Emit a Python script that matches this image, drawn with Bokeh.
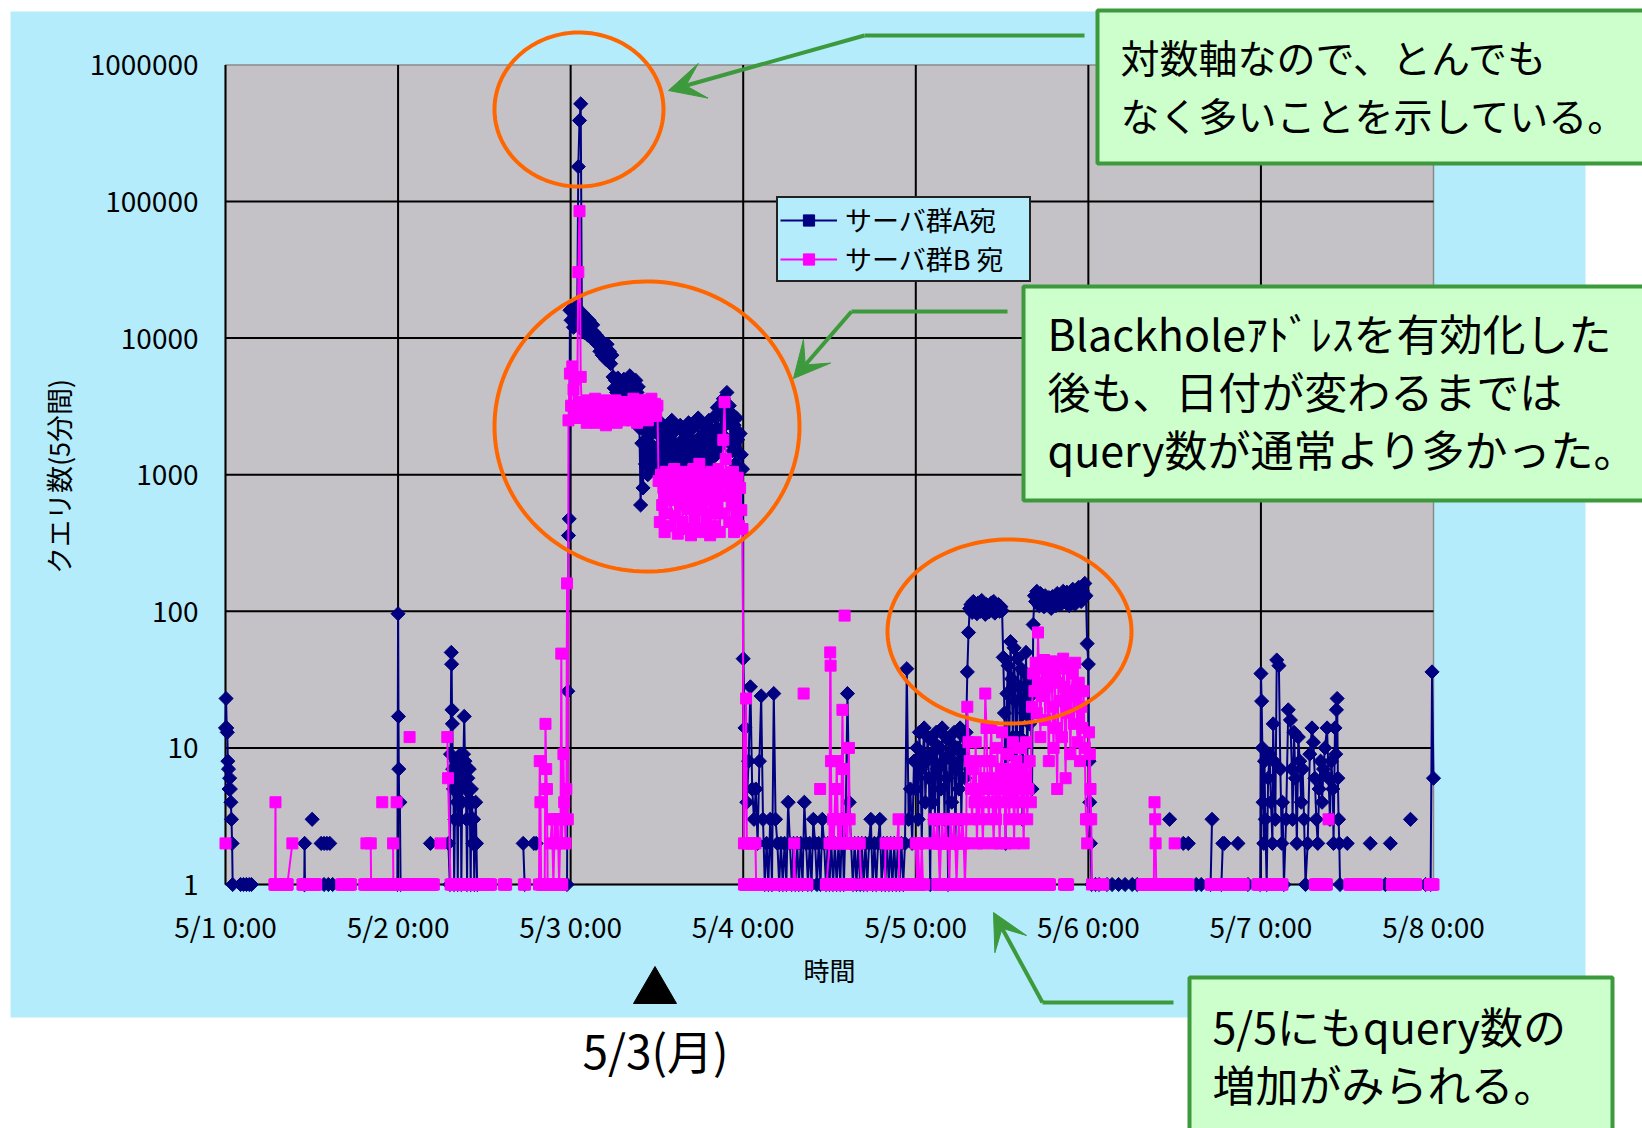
import numpy as np
from bokeh.plotting import figure
from bokeh.models import (Range1d, FixedTicker, NumeralTickFormatter, BoxAnnotation,
                          PolyAnnotation, Label, Arrow, VeeHead, Legend, LegendItem)
from bokeh.embed import file_html
from bokeh.resources import INLINE

# ---------------------------------------------------------------- data
# time axis in hours from 5/1 0:00, sampled every 5 minutes
day_ticks = [0, 24, 48, 72, 96, 120, 144, 168]
day_labels = ["5/1 0:00", "5/2 0:00", "5/3 0:00", "5/4 0:00",
              "5/5 0:00", "5/6 0:00", "5/7 0:00", "5/8 0:00"]
decade_ticks = [1, 10, 100, 1000, 10000, 100000, 1000000]
series_names = ["サーバ群A宛", "サーバ群B 宛"]
x_title = "時間"
y_title = "クエリ数(5分間)"

# --- サーバ群A宛 (navy)
navy_may1 = [
    [(0.0, 14), (0.08, 23), (0.17, 14), (0.25, 13), (0.33, 8), (0.42, 7), (0.5, 5),
     (0.58, 6), (0.67, 5), (0.75, 4), (0.83, 3), (0.92, 2), (1.0, 1), (2.1, 1),
     (2.5, 1), (2.9, 1), (3.3, 1), (3.6, 1)],
    [(10.95, 1), (11.0, 2), (11.05, 1)],
    [(12.05, 3)],
    [(13.3, 2), (13.7, 2), (14.1, 2), (14.5, 2)],
    [(13.7, 1), (14.3, 1), (14.9, 1)],
    [(23.9, 1), (24.0, 96), (24.05, 17), (24.1, 7), (24.15, 4), (24.25, 4), (24.35, 1)],
]
navy_may2 = [
    [(28.5, 2)],
    [(31.0, 2), (31.2, 1), (31.3, 9), (31.4, 50), (31.45, 41), (31.5, 19), (31.55, 15),
     (31.6, 7), (31.7, 5), (31.8, 1), (31.9, 3), (32.0, 6), (32.1, 8), (32.2, 4),
     (32.3, 1), (32.4, 5), (32.5, 7), (32.6, 3), (32.7, 9), (32.8, 1), (32.9, 4),
     (33.0, 6), (33.1, 9), (33.2, 17), (33.3, 8), (33.4, 5), (33.5, 3), (33.6, 1),
     (33.7, 6), (33.8, 4), (33.9, 7), (34.0, 3), (34.1, 1), (34.2, 5), (34.3, 4),
     (34.4, 2), (34.5, 3), (34.6, 1), (34.7, 2), (34.8, 4), (34.9, 2), (35.0, 1)],
    [(41.4, 2), (41.6, 1)],
    [(42.9, 2), (43.2, 2)],
]
navy_climb = [(47.5, 1), (47.6, 26), (47.7, 359), (47.8, 475)]
# 10-minute readings from 47.9 h
navy_may3 = [16000, 13500, 15500, 12000, 14500, 17000, 12500, 180000, 392000, 519000, 13000, 15000,
             11000, 14000, 12000, 10500, 13500, 11500, 10000, 12500, 11000, 9500, 10500, 9000,
             10000, 8000, 9500, 7500, 9000, 8500, 7000, 9000, 7500, 8000, 6500, 7500,
             5200, 4300, 4900, 4000, 5100, 4500, 3900, 4800, 4200, 5000, 4400, 4000,
             4700, 4100, 5300, 4300, 3900, 4600, 4200, 4900, 4000, 4400, 2200, 600,
             1700, 800, 2100, 1200, 1500, 1000, 1900, 1300, 2300, 1100, 1600, 1400,
             1200, 2000, 1500, 1100, 2400, 1300, 1800, 1000, 1600, 2200, 1200, 1900,
             1400, 2500, 1100, 1700, 2100, 1300, 1600, 1000, 2300, 1500, 1800, 1200,
             2000, 1100, 1600, 2400, 1300, 1800, 1050, 2200, 1400, 1700, 1200, 2600,
             1500, 1900, 1100, 2300, 1400, 1700, 2000, 1200, 2500, 1600, 1300, 2100,
             1800, 2700, 1400, 3100, 2000, 1600, 2900, 2200, 3600, 1900, 2500, 4000,
             2400, 3200, 1700, 2800, 1500, 2300, 1200, 2600, 1800, 1100, 2000, 1400,
             1100]
# 15-minute readings from 72.0 h
navy_may4 = [45, 14, 4, 8, 28, 5, 3, 5,
             2, 8, 24, 3, 1, 2, 1, 3,
             1, 25, 3, 2, 1, 2, 1, 2,
             1, 4, 2, 1, 2, 1, 2, 1,
             2, 1, 4, 2, 1, 2, 1, 3,
             2, 1, 2, 1, 3, 2, 1, 2,
             1, 2, 1, 2, 1, 2, 1, 3,
             1, 3, 25, 4, 2, 1, 2, 1,
             2, 1, 2, 1, 2, 1, 2, 3,
             1, 2, 1, 2, 3, 1, 2, 1,
             2, 1, 2, 1, 2, 1, 2, 1,
             2, 1, 2, 38, 3, 5, 2, 8]
# 10-minute readings from 96.0 h
navy_may5 = [5, 10, 3, 13, 7, 2, 9, 14, 4, 8, 12, 6,
             1, 9, 4, 11, 3, 13, 7, 2, 10, 5, 14, 8,
             3, 12, 6, 1, 9, 11, 4, 8, 13, 2, 7, 10,
             5, 14, 3, 9, 12, 6, 13, 36, 70, 105, 112, 98,
             118, 104, 110, 96, 115, 108, 100, 120, 102, 110, 95, 112,
             104, 99, 108, 115, 101, 118, 97, 110, 104, 112, 100, 108,
             101, 46, 18, 2, 25, 40, 9, 60, 32, 12, 54, 22,
             5, 45, 28, 12, 38, 3, 36, 18, 50, 8, 30, 15,
             24, 5, 80, 130, 118, 140, 122, 110, 135, 115, 125, 108,
             130, 118, 112, 126, 120, 105, 128, 115, 122, 110, 135, 118,
             126, 112, 130, 140, 122, 116, 138, 124, 110, 132, 119, 145,
             128, 113, 136, 121, 150, 127, 118, 141, 125, 160, 130, 58]
navy_drop = [(120.0, 41), (120.1, 8), (120.2, 4), (120.3, 2), (120.45, 1), (121.0, 1),
             (121.5, 1), (122.6, 1), (123.3, 1), (124.2, 1), (125.1, 1), (126.1, 1),
             (126.8, 1)]
navy_may6 = [
    [(131.3, 3)],
    [(133.2, 2), (133.9, 2)],
    [(135.0, 1), (135.7, 1)],
    [(137.0, 1), (137.2, 3)],
    [(138.5, 1), (138.7, 2), (138.9, 2)],
    [(140.8, 2)],
    [(142.2, 1)],
]
navy_may7 = [
    [(143.9, 1), (144.0, 35), (144.1, 22), (144.2, 10), (144.3, 4), (144.4, 2), (144.5, 8),
     (144.6, 3), (144.8, 1), (145.0, 6), (145.2, 9), (145.4, 4), (145.6, 2), (145.7, 15),
     (145.8, 8), (146.0, 3), (146.2, 44), (146.5, 40), (146.7, 7), (146.9, 2), (147.0, 4),
     (147.2, 1), (147.5, 3), (147.8, 19), (148.1, 16), (148.3, 7), (148.4, 3), (148.6, 13),
     (148.8, 6), (149.0, 2), (149.2, 12), (149.4, 8), (149.6, 4), (149.8, 7), (150.0, 3),
     (150.2, 1), (150.5, 2), (150.8, 9), (151.1, 14), (151.3, 11), (151.5, 6), (151.7, 3),
     (151.9, 2), (152.1, 5), (152.3, 8), (152.5, 4), (152.7, 7), (152.9, 10), (153.2, 14),
     (153.4, 6), (153.6, 3), (153.8, 8), (154.0, 5), (154.1, 2), (154.3, 14), (154.4, 9),
     (154.5, 19), (154.6, 23), (154.7, 6), (154.8, 3), (154.9, 2), (155.0, 1)],
    [(156.0, 2)], [(159.2, 2)], [(161.3, 1)], [(162.0, 2)], [(164.8, 3)], [(166.9, 1)],
    [(167.6, 1), (167.8, 36), (168.0, 6)],
]

# --- サーバ群B宛 (magenta)
pink_runs = [(6.8, 8.6), (10.7, 12.6), (16.1, 17.4), (19.3, 29.0), (31.5, 36.9),
             (38.7, 39.0), (41.5, 41.7), (44.0, 46.8), (72.1, 80.9), (83.5, 87.0),
             (89.3, 96.5), (99.0, 114.7), (116.6, 117.2), (121.9, 122.1), (127.5, 133.9),
             (137.0, 141.6), (143.5, 147.0), (151.5, 153.2), (156.3, 160.1),
             (162.2, 165.6), (167.5, 168.0)]
pink_may1 = [
    [(0.0, 2)],
    [(6.9, 1), (6.95, 4), (7.0, 1)],
    [(8.6, 1), (9.3, 2)],
    [(19.6, 2), (20.2, 2), (20.25, 1)],
    [(21.8, 4)],
    [(23.3, 2), (23.35, 1)],
    [(23.8, 4)],
]
pink_may2 = [
    [(25.6, 12)],
    [(29.9, 2)],
    [(30.85, 12), (30.95, 6), (31.3, 1)],
    [(43.6, 1), (43.7, 8), (43.8, 4), (43.9, 1)],
    [(44.4, 1), (44.5, 15), (44.6, 7), (44.7, 5), (44.8, 1)],
]
pink_climb = [(45.2, 2), (45.4, 3), (45.6, 1), (45.8, 3), (46.0, 2), (46.2, 3), (46.4, 1),
              (46.6, 3), (46.7, 49), (46.8, 2), (47.0, 9), (47.1, 4), (47.2, 3), (47.3, 2),
              (47.4, 5), (47.5, 160), (47.6, 3), (47.7, 2500)]
# 10-minute readings from 47.9 h
pink_may3 = [5500, 3200, 6200, 4200, 2600, 5000, 3000, 30400, 85000, 5200, 2800, 3400,
             2600, 3100, 2400, 3500, 2800, 3300, 2500, 3000, 2700, 3600, 2400, 3200,
             2800, 3400, 2500, 3100, 2700, 3500, 2300, 3000, 2600, 3300, 2800, 2500,
             3200, 2700, 3500, 2400, 3000, 2800, 3400, 2600, 3100, 2500, 3300, 2900,
             2600, 3400, 2800, 3100, 2500, 3600, 2700, 3200, 2400, 3000, 3500, 2800,
             3300, 2600, 3500, 2900, 3100, 2500, 3400, 2700, 3600, 3000, 2800, 3300,
             2700, 3200, 900, 450, 1000, 600, 800, 380, 1050, 520, 750, 900,
             420, 950, 650, 1100, 500, 800, 370, 1000, 600, 880, 450, 700,
             1050, 400, 850, 560, 980, 360, 720, 1100, 480, 900, 620, 400,
             1200, 550, 820, 380, 1000, 650, 450, 900, 700, 360, 1050, 520,
             780, 420, 950, 600, 1100, 380, 850, 520, 1800, 3400, 1300, 700,
             1000, 450, 880, 600, 1050, 380, 750, 500, 950, 420, 800, 550,
             400]
pink_after = [(72.1, 2), (72.4, 23), (72.5, 2), (72.8, 2), (73.1, 2), (73.4, 2),
              (73.7, 2), (73.8, 1)]
pink_may4 = [
    [(79.0, 1), (79.1, 2), (79.2, 1)],
    [(80.4, 25)],
    [(82.7, 5)],
    [(83.6, 1), (84.0, 2), (84.1, 50), (84.15, 40), (84.2, 8), (84.3, 2), (84.5, 3),
     (84.6, 2), (84.8, 5), (84.9, 3), (85.0, 8), (85.2, 2), (85.4, 3), (85.6, 2),
     (85.8, 19), (85.9, 7), (86.0, 2), (86.3, 3), (86.5, 2), (86.7, 10), (86.8, 3),
     (87.0, 2), (87.3, 2), (87.6, 2), (87.9, 2), (88.2, 2), (88.4, 1)],
    [(86.1, 93)],
    [(91.7, 1), (91.8, 2), (92.2, 2), (92.6, 2), (93.0, 2), (93.4, 2), (93.6, 3), (93.7, 1)],
]
# 10-minute readings from 96.0 h (None = no reading)
pink_may5 = [2, 1, 2, 1, 1, 2, 1, 1, None, None, None, None,
             None, None, 2, 3, 2, 2, 3, 2, 1, 2, 3, 2,
             2, 3, 2, 2, 1, 3, 2, 2, 3, 2, 1, 2,
             3, 2, 2, 3, 2, 1, 2, 20, 11, 8, 5, 3,
             7, 4, 11, 2, 5, 3, 8, 4, 2, 6, 25, 14,
             5, 3, 8, 14, 4, 2, 6, 3, 10, 5, 2, 7,
             13, 4, 6, 2, 5, 9, 3, 7, 4, 11, 2, 6,
             8, 3, 5, 10, 4, 7, 2, 6, 11, 3, 5, 8,
             4, 20, 35, 26, 42, 18, 70, 30, 12, 38, 24, 44,
             16, 40, 28, 8, 34, 43, 20, 10, 36, 14, 5, 30,
             42, 22, 12, 45, 28, 6, 38, 18, 40, 9, 26, 35,
             15, 42, 24, 11, 30, 8, 20, 14, 26, 10, 3, 2]
pink_tail = [(120.0, 3), (120.1, 13), (120.2, 9), (120.3, 5), (120.4, 3), (120.5, 1)]
pink_may6 = [
    [(129.1, 1), (129.2, 4), (129.3, 3), (129.35, 2), (129.45, 1)],
    [(132.0, 2)],
    [(153.4, 3)],
]


def regular(start, step, values):
    return [(start + i * step, v) for i, v in enumerate(values)]


def assemble(strokes, runs=()):
    xs, ys = [], []
    for h0, h1 in runs:
        n = int(round((h1 - h0) * 12)) + 1
        for i in range(n):
            xs.append(h0 + i / 12.0)
            ys.append(1)
        xs.append(np.nan)
        ys.append(np.nan)
    for stroke in strokes:
        for h, v in stroke:
            xs.append(h)
            ys.append(np.nan if v is None else v)
        xs.append(np.nan)
        ys.append(np.nan)
    return np.array(xs, dtype=float), np.array(ys, dtype=float)


navy_main = (navy_climb + regular(47.9, 1 / 6, navy_may3) + regular(72.0, 0.25, navy_may4)
             + regular(96.0, 1 / 6, navy_may5) + navy_drop)
navy_x, navy_y = assemble(navy_may1 + navy_may2 + [navy_main] + navy_may6 + navy_may7)

pink_main = (pink_climb + regular(47.9, 1 / 6, pink_may3) + pink_after)
pink_day5 = regular(96.0, 1 / 6, pink_may5) + pink_tail
pink_x, pink_y = assemble(pink_may1 + pink_may2 + [pink_main] + pink_may4 + [pink_day5]
                          + pink_may6, pink_runs)

# ---------------------------------------------------------------- layout
# the frame fills the whole canvas; the axes sit at fixed data positions
W, H = 1642, 1128
AX_X, AX_Y = 225, 884          # canvas position of 5/1 0:00 and of the value 1
HOUR_PX = (1433 - AX_X) / 168.0
DECADE_PX = 136.6
x_lo, x_hi = -AX_X / HOUR_PX, (W - AX_X) / HOUR_PX
y_lo, y_hi = 10 ** (-(H - AX_Y) / DECADE_PX), 10 ** (AX_Y / DECADE_PX)

JP = "Noto Sans CJK JP"
NAVY, PINK = "#000080", "#FF00FF"
SKY, PLOT_BG = "#B4ECFC", "#C4C2C6"
GREEN, NOTE_BG, ORANGE = "#3C9A3C", "#CCFFCC", "#FF6600"


def sx(X):
    return X


def sy(Y):
    return H - Y


p = figure(width=W, height=H, y_axis_type="log", title=None,
           x_range=Range1d(x_lo, x_hi), y_range=Range1d(y_lo, y_hi),
           output_backend="svg", toolbar_location=None, min_border=0,
           min_border_left=0, min_border_right=0, min_border_top=0, min_border_bottom=0)
p.border_fill_color = "white"
p.background_fill_color = "white"
p.outline_line_color = None
p.xgrid.visible = False
p.ygrid.visible = False

# light-blue chart area and grey plot area
p.add_layout(BoxAnnotation(left=sx(10), right=sx(1585), top=sy(11), bottom=sy(1017),
                           left_units="screen", right_units="screen",
                           top_units="screen", bottom_units="screen",
                           fill_color=SKY, fill_alpha=1, line_color=None, level="image"))
p.add_layout(BoxAnnotation(left=0, right=168, bottom=1, top=1e6, fill_color=PLOT_BG,
                           fill_alpha=1, line_color="#8A8A8A", line_alpha=1,
                           line_width=1.5, level="image"))

# gridlines
p.segment(x0=day_ticks[:-1], y0=[decade_ticks[0]] * 7, x1=day_ticks[:-1],
          y1=[decade_ticks[-1]] * 7, line_color="black", line_width=2)
p.segment(x0=[day_ticks[0]] * 6, y0=decade_ticks[:-1], x1=[day_ticks[-1]] * 6,
          y1=decade_ticks[:-1], line_color="black", line_width=2)

# series
nl = p.line(navy_x, navy_y, line_color=NAVY, line_width=2)
ns = p.scatter(navy_x, navy_y, marker="square", angle=np.pi / 4, size=10,
               fill_color=NAVY, line_color=NAVY)
pl = p.line(pink_x, pink_y, line_color=PINK, line_width=2)
ps = p.scatter(pink_x, pink_y, marker="square", size=11, fill_color=PINK, line_color=PINK)

# axes pinned to 5/1 0:00 and to the value 1
p.xaxis.fixed_location = 1
p.yaxis.fixed_location = 0
p.xaxis.ticker = FixedTicker(ticks=day_ticks)
p.xaxis.major_label_overrides = dict(zip(day_ticks, day_labels))
p.yaxis.ticker = FixedTicker(ticks=decade_ticks)
p.yaxis.formatter = NumeralTickFormatter(format="0")
for ax in (p.xaxis[0], p.yaxis[0]):
    ax.axis_line_color = None
    ax.major_tick_line_color = None
    ax.minor_tick_line_color = None
    ax.major_tick_out = 0
    ax.minor_tick_out = 0
    ax.major_label_text_font = JP
    ax.major_label_text_font_size = "28px"
    ax.major_label_text_color = "black"
p.xaxis.major_label_standoff = 21
p.yaxis.major_label_standoff = 27

# axis titles, centred on the plot area
p.add_layout(Label(x=sx(829), y=sy(969), x_units="screen", y_units="screen",
                   text=x_title, text_font=JP, text_font_size="26px", text_color="black",
                   text_align="center", text_baseline="middle"))
p.add_layout(Label(x=sx(58), y=sy(476), x_units="screen", y_units="screen",
                   text=y_title, text_font=JP, text_font_size="27px", text_color="black",
                   text_align="center", text_baseline="middle", angle=np.pi / 2))

# legend
legend = Legend(items=[LegendItem(label=series_names[0], renderers=[nl, ns]),
                       LegendItem(label=series_names[1], renderers=[pl, ps])],
                location=(sx(776), sy(282)), orientation="vertical",
                background_fill_color=SKY, background_fill_alpha=1,
                border_line_color="#222222", border_line_alpha=1, border_line_width=2,
                label_text_font=JP, label_text_font_size="27px", label_text_color="black",
                glyph_width=57, glyph_height=28, label_height=28, label_width=182,
                label_standoff=8, spacing=0, padding=2, margin=0)
p.add_layout(legend)

# orange ellipses
t = np.linspace(0, 2 * np.pi, 160)
for cx, cy, rx, ry in [(578.5, 109, 84.5, 77), (646.5, 426, 152.5, 145),
                       (1009, 631, 122, 92)]:
    p.add_layout(PolyAnnotation(xs=list(sx(cx + rx * np.cos(t))),
                                ys=list(sy(cy + ry * np.sin(t))),
                                xs_units="screen", ys_units="screen",
                                fill_color=None, fill_alpha=0,
                                line_color=ORANGE, line_alpha=1, line_width=4))

# callout arrows
for (x0, y0), (x1, y1), (x2, y2) in [((1084, 35), (864, 35), (668, 90)),
                                     ((1007, 311), (851, 311), (793, 378)),
                                     ((1173, 1002), (1042, 1002), (993, 912))]:
    p.add_layout(Arrow(x_start=sx(x0), y_start=sy(y0), x_end=sx(x1), y_end=sy(y1),
                       start_units="screen", end_units="screen", end=None,
                       line_color=GREEN, line_alpha=1, line_width=4))
    p.add_layout(Arrow(x_start=sx(x1), y_start=sy(y1), x_end=sx(x2), y_end=sy(y2),
                       start_units="screen", end_units="screen",
                       end=VeeHead(size=36, fill_color=GREEN, fill_alpha=1,
                                   line_color=GREEN, line_alpha=1),
                       line_color=GREEN, line_alpha=1, line_width=4))

# callout boxes
notes = [
    ((1097, 1700, 10, 163), 1120, 39, [("対数軸なので、とんでも", 55),
                                       ("なく多いことを示している。", 113)]),
    ((1023, 1700, 286, 500), 1047, 43, [("Blackholeｱﾄﾞﾚｽを有効化した", 331),
                                        ("後も、日付が変わるまでは", 389),
                                        ("query数が通常より多かった。", 447)]),
    ((1189, 1612, 977, 1200), 1212, 43, [("5/5にもquery数の", 1024),
                                         ("増加がみられる。", 1082)]),
]
for (l, r, tp, b), tx, fs, lines in notes:
    p.add_layout(BoxAnnotation(left=sx(l), right=sx(r), top=sy(tp), bottom=sy(b),
                               left_units="screen", right_units="screen",
                               top_units="screen", bottom_units="screen",
                               fill_color=NOTE_BG, fill_alpha=1,
                               line_color=GREEN, line_alpha=1, line_width=4))
    for text, ty in lines:
        p.add_layout(Label(x=sx(tx), y=sy(ty), x_units="screen", y_units="screen",
                           text=text, text_font=JP, text_font_size=f"{fs}px",
                           text_color="black", text_align="left",
                           text_baseline="middle"))

# Monday marker below the axis
p.add_layout(PolyAnnotation(xs=[sx(633), sx(676), sx(654.5)], ys=[sy(1003), sy(1003), sy(966)],
                            xs_units="screen", ys_units="screen",
                            fill_color="black", fill_alpha=1, line_color="black",
                            line_alpha=1))
p.add_layout(Label(x=sx(655), y=sy(1048), x_units="screen", y_units="screen",
                   text="5/3(月)", text_font=JP, text_font_size="46px", text_color="black",
                   text_align="center", text_baseline="middle"))

open("out.html", "w").write(file_html(p, INLINE))
